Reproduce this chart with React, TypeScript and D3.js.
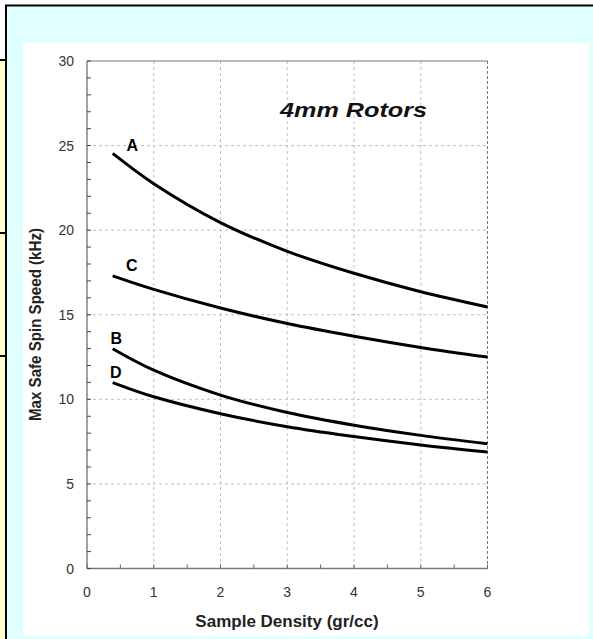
import React from "react";
import * as d3 from "d3";

const W = 593;
const H = 639;

const xTicks = [0, 1, 2, 3, 4, 5, 6];
const yTicks = [0, 5, 10, 15, 20, 25, 30];

const density = [0.385, 1, 2, 3, 4, 5, 6];
const seriesA = [24.54, 22.75, 20.45, 18.75, 17.45, 16.36, 15.46];
const seriesC = [17.3, 16.5, 15.4, 14.48, 13.73, 13.07, 12.5];
const seriesB = [12.99, 11.72, 10.25, 9.22, 8.47, 7.87, 7.37];
const seriesD = [10.99, 10.15, 9.15, 8.38, 7.8, 7.3, 6.88];

const seriesNames = ["A", "C", "B", "D"];
const seriesValues = [seriesA, seriesC, seriesB, seriesD];
const labelX = [0.68, 0.67, 0.44, 0.43];
const labelY = [24.7, 17.6, 13.25, 11.25];

const title = "4mm Rotors";
const xTitle = "Sample Density (gr/cc)";
const yTitle = "Max Safe Spin Speed (kHz)";

export default function App() {
  const x = d3.scaleLinear().domain([0, 6]).range([87, 487.5]);
  const y = d3.scaleLinear().domain([0, 30]).range([568.5, 61]);
  const line = d3
    .line<[number, number]>()
    .x((d) => x(d[0]))
    .y((d) => y(d[1]))
    .curve(d3.curveCatmullRom.alpha(0.5));

  const yMinor = d3.range(0, 31, 1);
  const xMinor = d3.range(0, 6.01, 0.5);
  const font = "'Liberation Sans', Arial, sans-serif";

  return (
    <svg
      width={W}
      height={H}
      style={{ position: "absolute", left: 0, top: 0 }}
      fontFamily={font}
    >
      <rect x={0} y={0} width={W} height={H} fill="#ffffff" />
      <rect x={5} y={5} width={W - 5} height={H - 5} fill="#e0ffff" />
      <rect x={0} y={60} width={5} height={H - 60} fill="#ffffcc" />
      <line x1={5} y1={5.5} x2={W} y2={5.5} stroke="#000" strokeWidth={2} />
      <line x1={6} y1={5} x2={6} y2={H} stroke="#000" strokeWidth={2} />
      {[60, 233, 356].map((yy) => (
        <line key={yy} x1={0} y1={yy} x2={6} y2={yy} stroke="#000" strokeWidth={2} />
      ))}
      <rect x={23} y={43} width={566} height={593} fill="#ffffff" />

      {/* grid */}
      {xTicks.slice(1, -1).map((t) => (
        <line
          key={"gx" + t}
          x1={x(t)}
          x2={x(t)}
          y1={y(30)}
          y2={y(0)}
          stroke="#c0c0c0"
          strokeDasharray="3,3"
        />
      ))}
      {yTicks.slice(1, -1).map((t) => (
        <line
          key={"gy" + t}
          x1={x(0)}
          x2={x(6)}
          y1={y(t)}
          y2={y(t)}
          stroke="#c0c0c0"
          strokeDasharray="3,3"
        />
      ))}

      {/* frame */}
      <line x1={x(0)} x2={x(6)} y1={y(30)} y2={y(30)} stroke="#777" />
      <line x1={x(6)} x2={x(6)} y1={y(30)} y2={y(0)} stroke="#777" strokeDasharray="3,2" />
      <line x1={x(0)} x2={x(0)} y1={y(30)} y2={y(0)} stroke="#444" />
      <line x1={x(0)} x2={x(6)} y1={y(0)} y2={y(0)} stroke="#777" strokeWidth={1.5} />

      {yMinor.map((t) => (
        <line key={"ty" + t} x1={x(0)} x2={x(0) + 4} y1={y(t)} y2={y(t)} stroke="#444" />
      ))}
      {xMinor.map((t) => (
        <line key={"tx" + t} x1={x(t)} x2={x(t)} y1={y(0)} y2={y(0) - 4} stroke="#666" />
      ))}

      {yTicks.map((t) => (
        <text
          key={"ly" + t}
          x={74}
          y={y(t)}
          dy="0.36em"
          textAnchor="end"
          fontSize={14}
          fill="#333"
        >
          {t}
        </text>
      ))}
      {xTicks.map((t) => (
        <text key={"lx" + t} x={x(t)} y={597} textAnchor="middle" fontSize={14} fill="#333">
          {t}
        </text>
      ))}

      <text
        x={287}
        y={627}
        textAnchor="middle"
        fontSize={17}
        fontWeight="bold"
        fill="#222"
      >
        {xTitle}
      </text>
      <text
        transform="translate(41,324.5) rotate(-90)"
        textAnchor="middle"
        fontSize={16}
        fontWeight="bold"
        fill="#222"
        textLength={193}
        lengthAdjust="spacingAndGlyphs"
      >
        {yTitle}
      </text>

      <text
        x={280}
        y={117}
        fontSize={21}
        fontWeight="bold"
        fontStyle="italic"
        fill="#111"
        textLength={147}
        lengthAdjust="spacingAndGlyphs"
      >
        {title}
      </text>

      {seriesValues.map((vals, i) => (
        <path
          key={"s" + i}
          d={line(density.map((d, j) => [d, vals[j]] as [number, number])) || ""}
          fill="none"
          stroke="#000"
          strokeWidth={3}
        />
      ))}
      {seriesNames.map((n, i) => (
        <text
          key={"n" + n}
          x={x(labelX[i])}
          y={y(labelY[i])}
          textAnchor="middle"
          fontSize={16}
          fontWeight="bold"
          fill="#000"
        >
          {n}
        </text>
      ))}
    </svg>
  );
}
